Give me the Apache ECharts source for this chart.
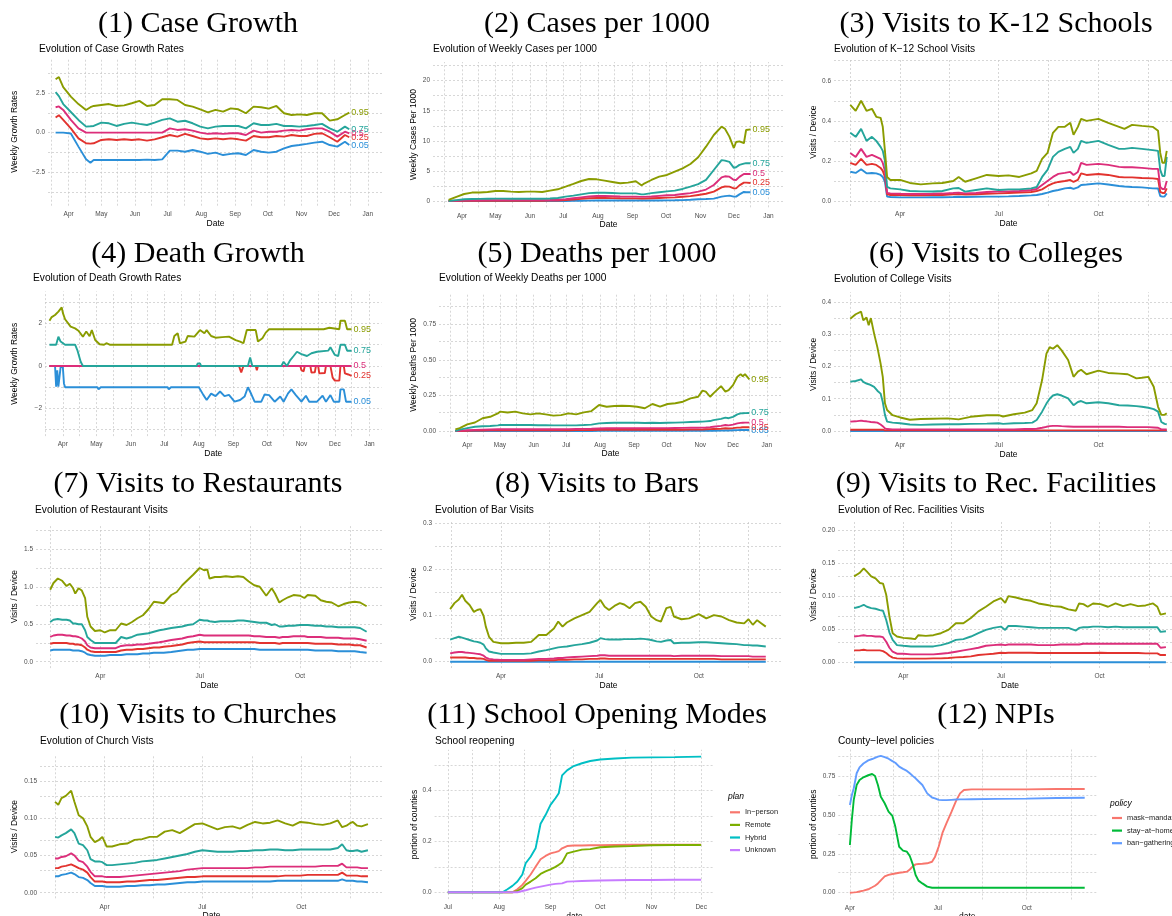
<!DOCTYPE html>
<html>
<head>
<meta charset="utf-8">
<title>County panels</title>
<script src="https://cdn.jsdelivr.net/npm/echarts@6/dist/echarts.min.js"></script>
<style>
  html, body { margin: 0; padding: 0; background: #fff; }
  #main { width: 1172px; height: 916px; }
</style>
</head>
<body>
<div id="main"></div>
<script>
// ---------- helpers for dates ----------
const t = s => { const p = s.split('-').map(Number); return new Date(p[0], p[1] - 1, p[2]).getTime(); };
const d20 = s => t('2020-' + s);
const monthAbbr = ['Jan', 'Feb', 'Mar', 'Apr', 'May', 'Jun', 'Jul', 'Aug', 'Sep', 'Oct', 'Nov', 'Dec'];

// ---------- tick values ----------
const monthTicks = ['2020-04-01', '2020-05-01', '2020-06-01', '2020-07-01', '2020-08-01', '2020-09-01', '2020-10-01', '2020-11-01', '2020-12-01', '2021-01-01'];
const monthMinor = ['2020-03-16', '2020-04-16', '2020-05-16', '2020-06-16', '2020-07-16', '2020-08-16', '2020-09-16', '2020-10-16', '2020-11-16', '2020-12-16'];
const quarterTicks = ['2020-04-01', '2020-07-01', '2020-10-01'];
const quarterMinor = ['2020-02-15', '2020-05-16', '2020-08-16', '2020-11-16'];
const p11Ticks = ['2020-07-01', '2020-08-01', '2020-09-01', '2020-10-01', '2020-11-01', '2020-12-01'];
const p11Minor = ['2020-07-16', '2020-08-16', '2020-09-15', '2020-10-16', '2020-11-15'];

const p1YTicks = [-2.5, 0, 2.5],          p1YMinor = [-3.75, -1.25, 1.25, 3.75];
const p2YTicks = [0, 5, 10, 15, 20],      p2YMinor = [2.5, 7.5, 12.5, 17.5, 22.5];
const p3YTicks = [0, 0.2, 0.4, 0.6],      p3YMinor = [0.1, 0.3, 0.5, 0.7];
const p4YTicks = [-2, 0, 2],              p4YMinor = [-3, -1, 1, 3];
const p5YTicks = [0, 0.25, 0.5, 0.75],    p5YMinor = [0.125, 0.375, 0.625, 0.875];
const p6YTicks = [0, 0.1, 0.2, 0.3, 0.4], p6YMinor = [0.05, 0.15, 0.25, 0.35];
const p7YTicks = [0, 0.5, 1, 1.5],        p7YMinor = [0.25, 0.75, 1.25, 1.75];
const p8YTicks = [0, 0.1, 0.2, 0.3],      p8YMinor = [0.05, 0.15, 0.25];
const p9YTicks = [0, 0.05, 0.1, 0.15, 0.2], p9YMinor = [0.025, 0.075, 0.125, 0.175];
const p10YTicks = [0, 0.05, 0.1, 0.15],   p10YMinor = [0.025, 0.075, 0.125, 0.175];
const p11YTicks = [0, 0.2, 0.4],          p11YMinor = [0.1, 0.3, 0.5];
const p12YTicks = [0, 0.25, 0.5, 0.75],   p12YMinor = [0.125, 0.375, 0.625, 0.875];

// ---------- quantile series ----------
const qNames = ['0.05', '0.25', '0.5', '0.75', '0.95'];

// (1) case growth
const p1Dates = ['3-20','3-23','3-27','4-3','4-10','4-17','4-21','4-24','5-1','5-8','5-15','5-22','5-29','6-5','6-12','6-19','6-26','7-3','7-10','7-17','7-24','7-31','8-7','8-14','8-21','8-28','9-4','9-11','9-18','9-25','10-2','10-9','10-16','10-23','10-30','11-6','11-13','11-20','11-27','12-4','12-11','12-15'];
const p1Q95 = [3.36,3.5,2.86, 2.27,1.8,1.43,1.6,1.68, 1.74,1.8,1.68,1.72,1.85, 2.0,1.68,1.74,2.1, 2.1,2.06,1.74,1.64,1.47, 1.28,1.43,1.32,1.53, 1.47,1.22,1.64,1.6, 1.51,1.68,1.22,1.11,1.15, 1.11,1.22,1.22,0.76, 0.84,1.11,1.26];
const p1Q75 = [2.55,2.3,1.8, 1.3,0.8,0.38,0.4,0.42, 0.63,0.59,0.42,0.55,0.63, 0.55,0.48,0.63,0.8, 0.9,0.69,0.75,0.59,0.38, 0.27,0.38,0.42,0.42, 0.42,0.27,0.59,0.48, 0.48,0.55,0.42,0.42,0.38, 0.42,0.48,0.55,0.27, 0.06,0.38,0.21];
const p1Q50 = [1.6,1.65,1.43, 0.8,0.27,0,0,0, 0,0,0,0,0, 0,0,0,0, 0.27,0.17,0.21,0.13,0, -0.08,-0.04,-0.08,-0.04, -0.04,-0.15,0.13,0, 0.06,0.06,0.13,0.17,0.13, 0.21,0.27,0.27,0.06, -0.25,0.06,-0.04];
const p1Q25 = [0.95,1.1,0.8, 0.27,-0.36,-0.67,-0.69,-0.67, -0.46,-0.42,-0.46,-0.42,-0.46, -0.42,-0.5,-0.42,-0.29, -0.15,-0.25,-0.08,-0.21,-0.36, -0.42,-0.36,-0.42,-0.36, -0.42,-0.5,-0.21,-0.29, -0.29,-0.21,-0.25,-0.15,-0.21, -0.21,-0.08,-0.04,-0.29, -0.57,-0.15,-0.29];
const p1Q05 = [0,0,0, -0.05,-0.88,-1.68,-1.89,-1.72, -1.72,-1.72,-1.72,-1.72,-1.72, -1.72,-1.7,-1.72,-1.68, -1.13,-1.13,-1.2,-1.09,-1.2, -1.34,-1.26,-1.41,-1.34, -1.3,-1.41,-1.09,-1.2, -1.26,-1.2,-0.99,-0.84,-0.78, -0.71,-0.63,-0.57,-0.78, -0.88,-0.57,-0.78];

// (2) cases per 1000
const p2Dates = ['3-20','3-27','4-3','4-10','4-17','4-24','5-1','5-8','5-15','5-22','5-29','6-5','6-12','6-19','6-26','7-3','7-10','7-17','7-24','7-31','8-7','8-14','8-21','8-28','9-4','9-9','9-11','9-18','9-25','10-2','10-9','10-16','10-23','10-30','11-6','11-13','11-20','11-23','11-27','12-1','12-3','12-6','12-10','12-12','12-16'];
const p2Q95 = [0.17,0.7, 1.16,1.4,1.4,1.5, 1.66,1.66,1.55,1.5,1.55, 1.55,1.5,1.72,1.94, 2.38,2.83,3.32,3.66,3.6, 3.38,3.16,2.94,3.05, 3.27,2.6,2.83,3.49,4.04, 4.32,4.88,5.43,6.15,7.26, 9.03,10.97,12.35,12.0,10.7, 8.8,9.8,9.9,9.6,11.8,11.9];
const p2Q75 = [0,0.15, 0.28,0.33,0.35,0.37, 0.39,0.39,0.38,0.37,0.38, 0.38,0.37,0.42,0.5, 0.72,0.9,1.1,1.3,1.38, 1.38,1.33,1.27,1.27, 1.27,1.1,1.1,1.3,1.45, 1.6,1.72,2.0,2.38,2.8, 3.5,5.15,6.8,6.7,6.5, 5.5,5.6,6.0,6.2,6.3,6.26];
const p2Q50 = [0,0.05, 0.1,0.12,0.13,0.14, 0.15,0.15,0.15,0.15,0.15, 0.15,0.15,0.17,0.2, 0.3,0.45,0.6,0.75,0.83, 0.83,0.8,0.75,0.72, 0.72,0.68,0.68,0.75,0.85, 0.95,1.0,1.15,1.3,1.55, 1.9,2.66,3.93,4.1,4.04, 3.5,3.49,4.0,4.49,4.5,4.49];
const p2Q25 = [0,0.02, 0.04,0.05,0.05,0.05, 0.05,0.05,0.05,0.05,0.05, 0.05,0.05,0.06,0.08, 0.15,0.25,0.35,0.45,0.5, 0.5,0.48,0.45,0.43, 0.43,0.4,0.4,0.45,0.5, 0.55,0.6,0.7,0.8,1.0, 1.2,1.55,2.27,2.4,2.38, 2.1,2.1,2.6,3.05,3.05,3.0];
const p2Q05 = [0,0, 0,0,0,0, 0,0,0,0,0, 0,0,0,0, 0,0.02,0.04,0.06,0.08, 0.08,0.08,0.08,0.08, 0.08,0.08,0.08,0.08,0.08, 0.1,0.12,0.15,0.2,0.28, 0.33,0.39,0.72,0.8,0.89, 0.72,0.72,1.1,1.5,1.45,1.44];

// (3) K-12 school visits
const p3Dates = ['2-15','2-20','2-25','3-1','3-6','3-10','3-14','3-16','3-18','3-20','3-23','4-1','4-10','4-20','5-1','5-10','5-20','5-25','5-31','6-10','6-20','7-1','7-10','7-20','7-31','8-5','8-10','8-15','8-20','8-25','8-31','9-5','9-8','9-12','9-15','9-20','10-1','10-10','10-20','10-25','11-1','11-10','11-20','11-25','11-27','11-29','12-1','12-3'];
const p3Q95 = [0.48,0.45,0.5, 0.45,0.46,0.42,0.415,0.37,0.25,0.12,0.105, 0.105,0.09,0.083, 0.088,0.09,0.1,0.12,0.096, 0.113,0.13, 0.125,0.128,0.12,0.138, 0.15,0.21,0.24,0.34,0.37,0.37, 0.39,0.33,0.37,0.41,0.4, 0.41,0.39,0.37,0.36, 0.38,0.375,0.37,0.35,0.24,0.19, 0.19,0.25];
const p3Q75 = [0.34,0.32,0.36, 0.3,0.32,0.3,0.27,0.25,0.2,0.07,0.063, 0.058,0.05,0.048, 0.047,0.05,0.063,0.065,0.047, 0.055,0.063, 0.055,0.058,0.058,0.063, 0.07,0.12,0.155,0.22,0.245,0.26, 0.27,0.24,0.26,0.3,0.29, 0.3,0.28,0.26,0.26, 0.265,0.26,0.254,0.25,0.155,0.125, 0.125,0.22];
const p3Q50 = [0.24,0.22,0.26, 0.22,0.23,0.22,0.21,0.19,0.15,0.04,0.038, 0.036,0.035,0.035, 0.036,0.037,0.04,0.042,0.038, 0.04,0.045, 0.047,0.048,0.05,0.055, 0.06,0.08,0.1,0.12,0.135,0.14, 0.145,0.13,0.145,0.19,0.18, 0.185,0.18,0.17,0.168, 0.168,0.165,0.16,0.16,0.07,0.06, 0.06,0.1];
const p3Q25 = [0.19,0.18,0.21, 0.18,0.185,0.18,0.165,0.15,0.12,0.033,0.03, 0.03,0.029,0.029, 0.03,0.03,0.033,0.035,0.032, 0.034,0.036, 0.038,0.04,0.042,0.045, 0.05,0.058,0.075,0.088,0.095,0.1, 0.105,0.095,0.105,0.138,0.13, 0.135,0.13,0.12,0.118, 0.118,0.115,0.113,0.11,0.045,0.04, 0.04,0.063];
const p3Q05 = [0.146,0.14,0.158, 0.138,0.14,0.138,0.13,0.12,0.095,0.022,0.02, 0.018,0.018,0.018, 0.019,0.019,0.02,0.021,0.02, 0.021,0.022, 0.022,0.023,0.025,0.028, 0.03,0.035,0.042,0.05,0.055,0.063, 0.066,0.06,0.068,0.08,0.082, 0.088,0.082,0.075,0.072, 0.07,0.068,0.063,0.062,0.025,0.022, 0.022,0.038];

// (4) death growth (step-like, own dates per quantile)
const p4Q95 = [['3-20',2.13],['3-22',2.3],['3-25',2.4],['3-28',2.56],['3-31',2.76],['4-1',2.5],['4-3',2.2],['4-8',1.85],['4-12',1.77],['4-15',1.66],['4-19',1.38],['4-22',1.62],['4-25',1.4],['4-27',1.69],['4-30',1.22],['5-4',1.02],['5-8',1.0],['5-10',1.07],['5-13',1.0],['7-8',1.0],['7-10',1.41],['7-13',1.54],['7-15',1.07],['7-20',1.15],['7-22',1.41],['7-28',1.38],['8-2',1.69],['8-6',1.54],['8-8',1.69],['8-12',1.41],['8-16',1.33],['8-22',1.36],['8-28',1.38],['9-3',1.22],['9-7',1.15],['9-10',1.07],['9-13',1.69],['9-21',1.69],['9-23',1.15],['9-27',1.3],['9-30',1.57],['10-3',1.73],['11-21',1.73],['11-22',1.8],['11-26',1.8],['11-27',1.73],['12-5',1.73],['12-6',2.13],['12-10',2.13],['12-12',1.73],['12-16',1.73]];
const p4Q75 = [['3-20',1.0],['3-26',1.0],['3-28',1.38],['3-30',1.15],['4-3',1.0],['4-12',1.0],['4-14',0.75],['4-17',0.2],['4-19',0],['7-30',0],['7-31',0.12],['8-2',0.12],['8-3',0],['9-14',0],['9-16',0.4],['9-18',0],['10-14',0],['10-16',0.2],['10-19',0],['10-22',0.28],['10-25',0.47],['10-28',0.67],['11-1',0.56],['11-6',0.47],['11-10',0.6],['11-15',0.67],['11-25',0.72],['11-27',0.88],['12-1',0.52],['12-4',0.47],['12-6',1.0],['12-10',1.0],['12-12',0.72],['12-16',0.72]];
const p4Q50 = [['3-20',0],['12-16',0]];
const p4Q25 = [['3-20',0],['9-6',0],['9-8',-0.3],['9-10',0],['9-21',0],['9-22',-0.2],['9-23',0],['10-31',0],['11-1',-0.2],['11-3',-0.25],['11-4',0],['11-9',0],['11-10',-0.31],['11-13',-0.3],['11-14',0],['11-16',0],['11-17',-0.35],['11-22',-0.33],['11-23',0],['11-27',0],['11-29',-0.55],['12-1',-0.69],['12-5',-0.69],['12-6',0],['12-9',0],['12-10',-0.35],['12-13',-0.4],['12-16',-0.47]];
const p4Q05 = [['3-20',0],['3-25',0],['3-26',-0.97],['3-27',-0.2],['3-28',-0.97],['3-30',-0.05],['4-1',-0.05],['4-2',-0.82],['4-3',-1.0],['5-2',-1.0],['5-3',-1.1],['5-5',-1.0],['6-4',-1.0],['6-5',-1.07],['6-8',-1.0],['7-4',-1.0],['7-5',-1.1],['7-7',-1.0],['8-1',-1.0],['8-5',-1.36],['8-8',-1.6],['8-12',-1.3],['8-16',-1.42],['8-20',-1.2],['8-24',-1.42],['8-28',-1.36],['9-2',-1.68],['9-7',-1.6],['9-11',-1.44],['9-14',-1.0],['9-17',-1.32],['9-20',-1.68],['9-26',-1.68],['9-29',-1.34],['10-3',-1.37],['10-8',-1.68],['10-13',-1.44],['10-16',-1.68],['10-20',-1.29],['10-23',-1.1],['10-27',-1.37],['11-1',-1.68],['11-5',-1.4],['11-8',-1.68],['11-15',-1.68],['11-20',-1.4],['11-23',-1.68],['11-27',-1.37],['11-30',-1.68],['12-5',-1.68],['12-6',-1.1],['12-9',-1.1],['12-11',-1.68],['12-16',-1.68]];

// (5) deaths per 1000
const p5Dates = ['3-21','3-25','4-1','4-8','4-15','4-22','4-29','5-1','5-8','5-15','5-22','5-29','6-5','6-12','6-19','6-26','7-3','7-10','7-17','7-24','7-31','8-7','8-14','8-21','8-28','9-4','9-11','9-18','9-25','10-2','10-9','10-16','10-23','10-30','11-3','11-6','11-10','11-13','11-20','11-24','11-27','12-1','12-5','12-8','12-10','12-12','12-16'];
const p5Q95 = [0.012,0.02, 0.047,0.06,0.09,0.1,0.124, 0.136,0.13,0.136,0.124,0.117, 0.124,0.117,0.108,0.112, 0.124,0.117,0.131,0.14,0.183, 0.171,0.176,0.178,0.176, 0.171,0.16,0.19,0.171, 0.19,0.195,0.206,0.23,0.241, 0.284,0.277,0.241,0.265,0.316,0.277,0.288, 0.323,0.382,0.4,0.385,0.4,0.363];
const p5Q75 = [0,0.01, 0.02,0.03,0.033,0.035,0.04, 0.042,0.042,0.043,0.042,0.042, 0.041,0.041,0.04,0.04, 0.04,0.04,0.042,0.045,0.054, 0.056,0.058,0.059,0.058, 0.058,0.056,0.058,0.056, 0.058,0.059,0.061,0.063,0.065, 0.066,0.068,0.07,0.077,0.085,0.094,0.09, 0.1,0.117,0.124,0.125,0.126,0.127];
const p5Q50 = [0,0.002, 0.005,0.008,0.01,0.011,0.012, 0.012,0.012,0.012,0.012,0.012, 0.012,0.012,0.012,0.012, 0.013,0.014,0.015,0.016,0.018, 0.019,0.019,0.019,0.019, 0.019,0.019,0.02,0.02, 0.02,0.021,0.022,0.023,0.023, 0.024,0.025,0.027,0.03,0.036,0.042,0.04, 0.045,0.054,0.057,0.058,0.059,0.059];
const p5Q25 = [0,0, 0.002,0.003,0.004,0.005,0.005, 0.005,0.005,0.005,0.005,0.005, 0.005,0.005,0.005,0.005, 0.005,0.006,0.006,0.007,0.008, 0.008,0.008,0.008,0.008, 0.008,0.008,0.008,0.008, 0.009,0.009,0.009,0.01,0.01, 0.011,0.012,0.013,0.014,0.016,0.019,0.018, 0.02,0.024,0.025,0.026,0.026,0.026];
const p5Q05 = [0,0, 0,0,0,0,0, 0,0,0,0,0, 0,0,0,0, 0,0,0,0,0.001, 0.001,0.001,0.001,0.001, 0.001,0.001,0.001,0.001, 0.001,0.001,0.001,0.001,0.001, 0.002,0.002,0.002,0.002,0.003,0.004,0.004, 0.005,0.006,0.007,0.007,0.007,0.007];

// (6) college visits
const p6Dates = ['2-15','2-20','2-25','2-27','3-1','3-3','3-5','3-8','3-11','3-14','3-16','3-18','3-20','3-25','4-1','4-10','4-20','5-1','5-15','5-25','6-5','6-20','7-1','7-5','7-15','7-25','8-1','8-5','8-10','8-14','8-17','8-20','8-24','8-28','9-3','9-8','9-12','9-15','9-20','10-1','10-10','10-20','10-28','11-5','11-10','11-16','11-21','11-25','11-28','12-1','12-3'];
const p6Q95 = [0.348,0.362,0.37,0.343,0.352,0.328,0.35,0.302,0.26,0.209, 0.168,0.086,0.065,0.049,0.042,0.035,0.037,0.038,0.039,0.036, 0.044,0.049,0.049,0.045,0.052,0.057,0.065,0.086,0.158,0.24, 0.26,0.255,0.266,0.25,0.22,0.168,0.184,0.19,0.176,0.187, 0.18,0.178,0.176,0.163,0.165,0.168,0.137,0.075,0.05,0.05, 0.055];
const p6Q75 = [0.153,0.155,0.16,0.152,0.147,0.145,0.142,0.137,0.125,0.116, 0.09,0.05,0.029,0.026,0.024,0.02,0.019,0.02,0.021,0.021, 0.022,0.023,0.024,0.022,0.024,0.025,0.026,0.034,0.06,0.085, 0.1,0.11,0.114,0.11,0.101,0.08,0.09,0.093,0.086,0.089, 0.086,0.08,0.079,0.077,0.075,0.072,0.068,0.06,0.028,0.022, 0.021];
const p6Q50 = [0.029,0.03,0.032,0.031,0.03,0.029,0.028,0.027,0.026,0.02, 0.015,0.008,0.006,0.005,0.005,0.005,0.005,0.005,0.005,0.005, 0.005,0.005,0.005,0.005,0.005,0.006,0.006,0.007,0.01,0.013, 0.015,0.016,0.016,0.015,0.014,0.013,0.013,0.013,0.013,0.013, 0.013,0.013,0.012,0.012,0.012,0.012,0.011,0.01,0.005,0.005, 0.005];
const p6Q25 = [0.004,0.004,0.004,0.004,0.004,0.004,0.004,0.004,0.004,0.004, 0.004,0.002,0.002,0.002,0.002,0.002,0.002,0.002,0.002,0.002, 0.002,0.002,0.002,0.002,0.002,0.002,0.002,0.002,0.002,0.002, 0.002,0.002,0.002,0.002,0.002,0.002,0.002,0.002,0.002,0.002, 0.002,0.002,0.002,0.002,0.002,0.002,0.002,0.002,0.002,0.002, 0.002];
const p6Q05 = [0,0,0,0,0,0,0,0,0,0, 0,0,0,0,0,0,0,0,0,0, 0,0,0,0,0,0,0,0,0,0, 0,0,0,0,0,0,0,0,0,0, 0,0,0,0,0,0,0,0,0,0, 0];

// (7) restaurant visits
const p7Dates = ['2-15','2-18','2-22','2-26','3-1','3-4','3-7','3-9','3-12','3-15','3-18','3-20','3-23','3-27','4-1','4-5','4-10','4-15','4-20','4-25','4-30','5-5','5-10','5-15','5-20','5-25','5-29','6-5','6-10','6-15','6-20','6-25','7-1','7-5','7-8','7-10','7-15','7-20','7-25','7-31','8-5','8-10','8-15','8-20','8-25','8-31','9-5','9-8','9-12','9-15','9-20','9-25','10-1','10-5','10-8','10-15','10-20','10-25','10-30','11-5','11-10','11-15','11-20','11-25','12-1'];
const p7Q95 = [0.96,1.05,1.11,1.08, 1.01,1.04,0.98,0.91,0.98,0.95,0.85,0.6,0.47,0.41, 0.42,0.39,0.42,0.42,0.51,0.49,0.53, 0.58,0.62,0.7,0.8,0.79,0.78, 0.89,0.93,1.02,1.09,1.16, 1.25,1.22,1.23,1.11,1.13,1.13,1.14,1.13, 1.14,1.13,1.07,1.02,1.0,0.88, 0.98,0.91,0.79,0.82,0.86,0.89, 0.88,0.85,0.89,0.88,0.82,0.8,0.79, 0.74,0.77,0.79,0.8,0.79, 0.74];
const p7Q75 = [0.53,0.56,0.57,0.56, 0.56,0.55,0.51,0.51,0.5,0.5,0.42,0.33,0.29,0.25, 0.25,0.25,0.25,0.25,0.33,0.31,0.33, 0.36,0.37,0.38,0.4,0.42,0.43, 0.45,0.46,0.47,0.49,0.5, 0.56,0.55,0.55,0.54,0.53,0.54,0.54,0.54, 0.55,0.55,0.54,0.53,0.52,0.52, 0.49,0.5,0.47,0.47,0.48,0.48, 0.49,0.49,0.49,0.48,0.48,0.47,0.47, 0.46,0.46,0.46,0.46,0.45, 0.4];
const p7Q50 = [0.33,0.35,0.36,0.36, 0.35,0.35,0.34,0.34,0.33,0.31,0.27,0.22,0.19,0.18, 0.18,0.18,0.18,0.18,0.21,0.22,0.22, 0.23,0.23,0.24,0.25,0.26,0.27, 0.29,0.3,0.31,0.33,0.34, 0.36,0.35,0.35,0.35,0.35,0.35,0.35,0.35, 0.35,0.35,0.35,0.34,0.34,0.33, 0.33,0.33,0.32,0.33,0.33,0.34, 0.34,0.34,0.33,0.33,0.33,0.32,0.32, 0.32,0.31,0.31,0.31,0.3, 0.28];
const p7Q25 = [0.24,0.25,0.25,0.25, 0.25,0.24,0.24,0.23,0.23,0.22,0.19,0.16,0.14,0.13, 0.13,0.13,0.13,0.13,0.15,0.16,0.16, 0.17,0.17,0.18,0.19,0.19,0.2, 0.21,0.22,0.23,0.25,0.26, 0.27,0.26,0.26,0.26,0.26,0.26,0.26,0.26, 0.26,0.26,0.26,0.26,0.25,0.25, 0.25,0.25,0.24,0.25,0.25,0.25, 0.25,0.25,0.25,0.24,0.24,0.24,0.24, 0.23,0.23,0.23,0.22,0.22, 0.19];
const p7Q05 = [0.15,0.16,0.16,0.16, 0.16,0.16,0.15,0.15,0.15,0.14,0.12,0.1,0.09,0.08, 0.08,0.08,0.09,0.09,0.09,0.1,0.1, 0.1,0.11,0.11,0.12,0.12,0.12, 0.13,0.14,0.15,0.16,0.16, 0.17,0.17,0.17,0.17,0.17,0.17,0.17,0.17, 0.17,0.17,0.17,0.17,0.16,0.16, 0.16,0.16,0.16,0.16,0.16,0.16, 0.16,0.16,0.16,0.15,0.15,0.15,0.15, 0.14,0.14,0.14,0.14,0.13, 0.12];

// (8) bar visits
const p8Dates = ['2-14','2-18','2-22','2-25','2-28','3-3','3-7','3-10','3-13','3-16','3-18','3-21','3-25','4-1','4-8','4-15','4-22','4-29','5-6','5-13','5-20','5-24','5-28','6-1','6-8','6-15','6-22','6-29','7-2','7-6','7-10','7-15','7-20','7-24','7-29','8-3','8-8','8-13','8-18','8-23','8-27','9-1','9-5','9-8','9-15','9-22','10-1','10-8','10-15','10-22','10-29','11-5','11-12','11-16','11-20','11-24','11-28','12-2'];
const p8Q95 = [0.114,0.127,0.135,0.145,0.132, 0.123,0.108,0.112,0.114,0.099,0.076,0.054,0.043, 0.04,0.04,0.041,0.041,0.043, 0.058,0.058,0.072,0.087,0.076, 0.085,0.094,0.101,0.108,0.127, 0.134,0.119,0.112,0.121,0.127,0.124,0.116, 0.127,0.13,0.119,0.098,0.09,0.087, 0.116,0.119,0.098,0.092,0.094, 0.103,0.094,0.101,0.098,0.09, 0.085,0.083,0.092,0.08,0.09,0.083, 0.076];
const p8Q75 = [0.048,0.051,0.054,0.052,0.05, 0.047,0.044,0.043,0.041,0.037,0.029,0.022,0.02, 0.017,0.017,0.017,0.017,0.018, 0.022,0.025,0.029,0.031,0.032, 0.033,0.036,0.038,0.041,0.046, 0.051,0.049,0.048,0.048,0.048,0.049,0.049, 0.049,0.05,0.049,0.047,0.044,0.043, 0.046,0.047,0.04,0.041,0.041, 0.042,0.042,0.041,0.04,0.039, 0.038,0.036,0.036,0.035,0.035,0.034, 0.033];
const p8Q50 = [0.018,0.02,0.021,0.021,0.02, 0.019,0.018,0.017,0.016,0.013,0.009,0.006,0.005, 0.004,0.004,0.004,0.004,0.005, 0.006,0.006,0.007,0.008,0.008, 0.009,0.01,0.011,0.012,0.013, 0.014,0.014,0.013,0.013,0.013,0.013,0.013, 0.013,0.013,0.013,0.013,0.013,0.013, 0.013,0.013,0.012,0.013,0.013, 0.013,0.013,0.013,0.012,0.012, 0.012,0.012,0.012,0.011,0.011,0.011, 0.011];
const p8Q25 = [0.009,0.009,0.009,0.009,0.009, 0.008,0.008,0.007,0.007,0.006,0.004,0.002,0.002, 0.002,0.002,0.002,0.002,0.002, 0.003,0.003,0.003,0.004,0.004, 0.004,0.005,0.005,0.006,0.006, 0.007,0.007,0.006,0.006,0.006,0.006,0.006, 0.006,0.006,0.006,0.006,0.006,0.006, 0.006,0.006,0.006,0.006,0.006, 0.006,0.006,0.006,0.005,0.005, 0.005,0.005,0.005,0.005,0.005,0.005, 0.005];
const p8Q05 = [0,0,0,0,0, 0,0,0,0,0,0,0,0, 0,0,0,0,0, 0,0,0,0,0, 0,0,0,0,0, 0,0,0,0,0,0,0, 0,0,0,0,0,0, 0,0,0,0,0, 0,0,0,0,0, 0,0,0,0,0,0, 0];

// (9) recreational facility visits
const p9Dates = ['2-15','2-20','2-24','2-27','3-2','3-6','3-10','3-13','3-16','3-19','3-22','3-26','4-1','4-8','4-12','4-15','4-22','4-29','5-6','5-13','5-20','5-27','6-3','6-10','6-17','6-24','7-1','7-5','7-8','7-15','7-22','7-29','8-5','8-12','8-19','8-26','9-2','9-9','9-12','9-16','9-20','9-25','10-2','10-9','10-16','10-23','10-30','11-6','11-13','11-20','11-24','11-27','12-2'];
const p9Q95 = [0.13,0.135,0.142,0.137, 0.13,0.127,0.12,0.119,0.102,0.069,0.044,0.039, 0.037,0.036,0.035,0.041,0.04,0.041, 0.044,0.049,0.059,0.059, 0.067,0.077,0.084,0.092, 0.097,0.09,0.1,0.098,0.095,0.093, 0.089,0.087,0.085,0.084, 0.08,0.078,0.089,0.088,0.084,0.089, 0.088,0.084,0.089,0.085,0.088, 0.085,0.086,0.089,0.084,0.072, 0.074];
const p9Q75 = [0.082,0.084,0.087,0.084, 0.082,0.081,0.079,0.078,0.064,0.045,0.034,0.026, 0.025,0.024,0.024,0.024,0.024,0.024, 0.026,0.029,0.034,0.035, 0.039,0.044,0.049,0.052, 0.054,0.049,0.055,0.055,0.054,0.053, 0.052,0.052,0.052,0.052, 0.052,0.048,0.052,0.053,0.053,0.054, 0.054,0.053,0.054,0.053,0.053, 0.053,0.053,0.053,0.053,0.046, 0.047];
const p9Q50 = [0.039,0.04,0.041,0.04, 0.04,0.039,0.039,0.038,0.031,0.022,0.016,0.013, 0.013,0.012,0.012,0.012,0.012,0.012, 0.013,0.014,0.016,0.018, 0.02,0.022,0.025,0.026, 0.027,0.026,0.027,0.027,0.027,0.027, 0.026,0.026,0.026,0.027, 0.027,0.027,0.027,0.028,0.028,0.028, 0.028,0.028,0.028,0.028,0.028, 0.028,0.028,0.028,0.028,0.022, 0.023];
const p9Q25 = [0.018,0.018,0.019,0.018, 0.018,0.018,0.018,0.017,0.014,0.01,0.007,0.006, 0.0055,0.0055,0.0055,0.0055,0.0055,0.006, 0.006,0.0065,0.0075,0.008, 0.009,0.011,0.012,0.013, 0.0145,0.014,0.0145,0.0145,0.0145,0.0145, 0.014,0.014,0.014,0.014, 0.014,0.014,0.014,0.014,0.014,0.014, 0.0145,0.014,0.014,0.014,0.014, 0.014,0.0135,0.0135,0.0135,0.011, 0.011];
const p9Q05 = [0,0,0,0, 0,0,0,0,0,0,0,0, 0,0,0,0,0,0, 0,0,0,0, 0,0,0,0, 0,0,0,0,0,0, 0,0,0,0, 0,0,0,0,0,0, 0,0,0,0,0, 0,0,0,0,0, 0];

// (10) church visits
const p10Dates = ['2-15','2-18','2-21','2-25','3-1','3-4','3-8','3-12','3-16','3-19','3-23','3-27','3-30','4-3','4-8','4-15','4-22','4-29','5-6','5-13','5-20','5-27','6-3','6-10','6-17','6-24','7-1','7-8','7-15','7-22','7-29','8-5','8-12','8-19','8-26','9-2','9-9','9-16','9-23','9-30','10-7','10-14','10-21','10-28','11-4','11-8','11-12','11-15','11-18','11-22','11-26','12-2'];
const p10Q95 = [0.122,0.118,0.127,0.13, 0.137,0.122,0.104,0.1,0.089,0.075,0.068,0.071,0.075, 0.062,0.062,0.065,0.066,0.071, 0.072,0.075,0.075,0.082, 0.084,0.08,0.086,0.092, 0.093,0.089,0.085,0.088,0.089, 0.086,0.091,0.095,0.093, 0.094,0.097,0.093,0.09,0.095, 0.094,0.092,0.091,0.093, 0.097,0.088,0.09,0.093,0.095,0.09,0.089, 0.092];
const p10Q75 = [0.075,0.074,0.077,0.08, 0.085,0.08,0.066,0.064,0.057,0.045,0.042,0.042,0.041, 0.037,0.037,0.038,0.039,0.04, 0.042,0.043,0.044,0.046, 0.048,0.05,0.052,0.055, 0.057,0.056,0.055,0.055,0.055, 0.056,0.056,0.057,0.057, 0.058,0.058,0.057,0.057,0.058, 0.058,0.058,0.058,0.058, 0.06,0.065,0.057,0.056,0.056,0.057,0.055, 0.057];
const p10Q50 = [0.046,0.046,0.048,0.049, 0.053,0.05,0.043,0.041,0.035,0.028,0.022,0.022,0.022, 0.021,0.021,0.021,0.022,0.023, 0.024,0.025,0.026,0.027, 0.028,0.029,0.031,0.032, 0.033,0.033,0.033,0.033,0.033, 0.033,0.033,0.034,0.034, 0.035,0.035,0.035,0.035,0.035, 0.035,0.035,0.036,0.036, 0.036,0.039,0.034,0.034,0.034,0.034,0.033, 0.033];
const p10Q25 = [0.033,0.033,0.035,0.036, 0.038,0.036,0.033,0.031,0.027,0.021,0.015,0.015,0.015, 0.014,0.014,0.014,0.015,0.015, 0.016,0.017,0.017,0.018, 0.019,0.02,0.021,0.021, 0.022,0.022,0.022,0.022,0.022, 0.022,0.022,0.022,0.022, 0.022,0.022,0.023,0.023,0.023, 0.024,0.024,0.024,0.024, 0.024,0.027,0.023,0.023,0.023,0.023,0.022, 0.022];
const p10Q05 = [0.022,0.022,0.024,0.025, 0.027,0.025,0.021,0.02,0.017,0.013,0.009,0.009,0.009, 0.008,0.008,0.008,0.009,0.009, 0.01,0.01,0.011,0.011, 0.012,0.013,0.014,0.014, 0.015,0.015,0.015,0.015,0.015, 0.015,0.015,0.015,0.015, 0.015,0.016,0.016,0.016,0.016, 0.016,0.016,0.016,0.016, 0.016,0.018,0.016,0.016,0.016,0.015,0.015, 0.014];

// (11) school opening modes
const p11Dates = ['7-1','8-3','8-6','8-9','8-12','8-15','8-17','8-20','8-23','8-26','8-29','9-1','9-4','9-6','9-8','9-11','9-15','9-20','9-25','10-1','10-10','10-20','11-1','11-15','12-1'];
const p11InPerson = [0,0,0,0,0.012,0.029,0.045,0.07,0.1,0.13,0.143,0.153,0.158,0.162,0.173,0.182,0.184,0.184,0.185,0.185,0.186,0.187,0.1875,0.1875,0.1875];
const p11Remote   = [0,0,0,0,0.005,0.016,0.03,0.042,0.055,0.072,0.082,0.09,0.1,0.108,0.117,0.153,0.16,0.168,0.17,0.177,0.18,0.182,0.185,0.186,0.186];
const p11Hybrid   = [0,0,0.012,0.025,0.042,0.07,0.114,0.14,0.173,0.27,0.304,0.344,0.37,0.39,0.46,0.48,0.497,0.508,0.517,0.523,0.527,0.53,0.531,0.532,0.534];
const p11Unknown  = [0,0,0,0,0,0.005,0.008,0.013,0.018,0.022,0.026,0.03,0.033,0.034,0.035,0.042,0.043,0.044,0.045,0.046,0.047,0.048,0.0485,0.049,0.049];

// (12) county-level policies
const p12Dates = ['4-1','4-3','4-5','4-8','4-11','4-15','4-20','4-24','4-27','4-30','5-3','5-7','5-11','5-15','5-18','5-22','5-26','5-30','6-2','6-5','6-8','6-11','6-15','6-20','6-25','6-28','7-2','7-6','7-10','7-15','7-20','7-24','7-28','8-5','9-1','10-1','11-1','11-30'];
const p12Mask = [0,0.001,0.002,0.004,0.008,0.013,0.022,0.035,0.045,0.06, 0.08,0.105,0.115,0.121,0.124,0.129,0.132,0.136, 0.15,0.17,0.183,0.185,0.187,0.19,0.2,0.23, 0.3,0.39,0.45,0.52,0.595,0.642,0.664, 0.668,0.668,0.668,0.67,0.67];
const p12Stay = [0.308,0.47,0.6,0.696,0.728,0.746,0.759,0.767,0.754,0.696, 0.62,0.578,0.524,0.496,0.427,0.297,0.272,0.265, 0.237,0.185,0.114,0.078,0.06,0.039,0.032,0.032, 0.032,0.032,0.032,0.032,0.032,0.032,0.032, 0.032,0.032,0.032,0.032,0.032];
const p12Ban  = [0.567,0.63,0.675,0.772,0.81,0.835,0.855,0.864,0.872,0.879, 0.884,0.876,0.866,0.85,0.84,0.815,0.8,0.787, 0.772,0.755,0.739,0.72,0.696,0.642,0.615,0.61, 0.6,0.598,0.598,0.6,0.602,0.603,0.603, 0.604,0.606,0.608,0.612,0.614];

// ---------- styling ----------
const qColors = ['#2b8fd8', '#e2332f', '#dc2e7a', '#25a59b', '#8a9c00'];
const SANS = '"Liberation Sans", Arial, sans-serif';
const SERIF = '"Liberation Serif", "Times New Roman", serif';
const zip = (dates, vals) => dates.map((s, i) => [d20(s), vals[i]]);
const quant = (dates, arrs) => arrs.map((a, k) => ({ name: qNames[k], color: qColors[k], data: zip(dates, a) }));
const fmt = dec => v => (v < 0 ? '\u2212' : '') + Math.abs(v).toFixed(dec);

const panels = [
  { title: '(1) Case Growth', sub: 'Evolution of Case Growth Rates', yName: 'Weekly Growth Rates', xName: 'Date',
    box: [48, 58, 335, 147.7], xr: ['2020-03-13', '2021-01-15'], yr: [-4.6, 4.7], xT: monthTicks, xM: monthMinor,
    yT: p1YTicks, yM: p1YMinor, dec: 1, yGap: 29, xGap: 13, tc: [198, 24], sc: [39, 49], endLab: true,
    lines: quant(p1Dates, [p1Q05, p1Q25, p1Q50, p1Q75, p1Q95]) },
  { title: '(2) Cases per 1000', sub: 'Evolution of Weekly Cases per 1000', yName: 'Weekly Cases Per 1000', xName: 'Date',
    box: [433, 62, 351, 145.3], xr: ['2020-03-06', '2021-01-15'], yr: [-1.05, 23.1], xT: monthTicks, xM: monthMinor,
    yT: p2YTicks, yM: p2YMinor, dec: 0, yGap: 15, xGap: 12, tc: [597, 24], sc: [433, 49], endLab: true,
    lines: quant(p2Dates, [p2Q05, p2Q25, p2Q50, p2Q75, p2Q95]) },
  { title: '(3) Visits to K-12 Schools', sub: 'Evolution of K\u221212 School Visits', yName: 'Visits / Device', xName: 'Date',
    box: [834, 58.3, 349, 147.7], xr: ['2020-01-31', '2020-12-18'], yr: [-0.025, 0.712], xT: quarterTicks, xM: quarterMinor,
    yT: p3YTicks, yM: p3YMinor, dec: 1, yGap: 16, xGap: 13, tc: [996, 24], sc: [834, 49],
    lines: quant(p3Dates, [p3Q05, p3Q25, p3Q50, p3Q75, p3Q95]) },
  { title: '(4) Death Growth', sub: 'Evolution of Death Growth Rates', yName: 'Weekly Growth Rates', xName: 'Date',
    box: [45, 291.6, 336.7, 144.5], xr: ['2020-03-16', '2021-01-12'], yr: [-3.3, 3.5], xT: monthTicks, xM: monthMinor,
    yT: p4YTicks, yM: p4YMinor, dec: 0, yGap: 26, xGap: 12.5, tc: [198, 254], sc: [33, 278.5], endLab: true,
    lines: [p4Q05, p4Q25, p4Q50, p4Q75, p4Q95].map((a, k) => ({ name: qNames[k], color: qColors[k], data: a.map(p => [d20(p[0]), p[1]]) })) },
  { title: '(5) Deaths per 1000', sub: 'Evolution of Weekly Deaths per 1000', yName: 'Weekly Deaths Per 1000', xName: 'Date',
    box: [439, 293.1, 343, 143.6], xr: ['2020-03-06', '2021-01-15'], yr: [-0.04, 0.97], xT: monthTicks, xM: monthMinor,
    yT: p5YTicks, yM: p5YMinor, dec: 2, yGap: 21, xGap: 12.5, tc: [597, 254], sc: [439, 278.5], endLab: true,
    lines: quant(p5Dates, [p5Q05, p5Q25, p5Q50, p5Q75, p5Q95]) },
  { title: '(6) Visits to Colleges', sub: 'Evolution of College Visits', yName: 'Visits / Device', xName: 'Date',
    box: [834, 292, 349, 144.8], xr: ['2020-01-31', '2020-12-18'], yr: [-0.018, 0.431], xT: quarterTicks, xM: quarterMinor,
    yT: p6YTicks, yM: p6YMinor, dec: 1, yGap: 16, xGap: 12.5, tc: [996, 254], sc: [834, 279],
    lines: quant(p6Dates, [p6Q05, p6Q25, p6Q50, p6Q75, p6Q95]) },
  { title: '(7) Visits to Restaurants', sub: 'Evolution of Restaurant Visits', yName: 'Visits / Device', xName: 'Date',
    box: [36, 525.3, 347, 142.8], xr: ['2020-02-02', '2020-12-16'], yr: [-0.085, 1.82], xT: quarterTicks, xM: quarterMinor,
    yT: p7YTicks, yM: p7YMinor, dec: 1, yGap: 17, xGap: 13.5, tc: [198, 484], sc: [35, 510],
    lines: quant(p7Dates, [p7Q05, p7Q25, p7Q50, p7Q75, p7Q95]) },
  { title: '(8) Visits to Bars', sub: 'Evolution of Bar Visits', yName: 'Visits / Device', xName: 'Date',
    box: [435, 520.1, 347, 147.9], xr: ['2020-01-31', '2020-12-17'], yr: [-0.0137, 0.307], xT: quarterTicks, xM: quarterMinor,
    yT: p8YTicks, yM: p8YMinor, dec: 1, yGap: 17, xGap: 13.5, tc: [597, 484], sc: [435, 510],
    lines: quant(p8Dates, [p8Q05, p8Q25, p8Q50, p8Q75, p8Q95]) },
  { title: '(9) Visits to Rec. Facilities', sub: 'Evolution of Rec. Facilities Visits', yName: 'Visits / Device', xName: 'Date',
    box: [838, 521.7, 344, 146.3], xr: ['2020-01-31', '2020-12-17'], yr: [-0.0086, 0.2126], xT: quarterTicks, xM: quarterMinor,
    yT: p9YTicks, yM: p9YMinor, dec: 2, yGap: 20, xGap: 13.5, tc: [996, 484], sc: [838, 510],
    lines: quant(p9Dates, [p9Q05, p9Q25, p9Q50, p9Q75, p9Q95]) },
  { title: '(10) Visits to Churches', sub: 'Evolution of Church Vists', yName: 'Visits / Device', xName: 'Date',
    box: [40, 754.9, 343, 143.4], xr: ['2020-02-01', '2020-12-16'], yr: [-0.0075, 0.185], xT: quarterTicks, xM: quarterMinor,
    yT: p10YTicks, yM: p10YMinor, dec: 2, yGap: 21, xGap: 12.5, tc: [198, 715], sc: [40, 741],
    lines: quant(p10Dates, [p10Q05, p10Q25, p10Q50, p10Q75, p10Q95]) },
  { title: '(11) School Opening Modes', sub: 'School reopening', yName: 'portion of counties', xName: 'date',
    box: [434.6, 749.8, 279.8, 149.3], xr: ['2020-06-23', '2020-12-09'], yr: [-0.027, 0.561], xT: p11Ticks, xM: p11Minor,
    yT: p11YTicks, yM: p11YMinor, dec: 1, yGap: 15, xGap: 13, tc: [597, 715], sc: [435, 741],
    lines: [
      { name: 'In\u2212person', color: '#F8766D', data: zip(p11Dates, p11InPerson) },
      { name: 'Remote', color: '#7CAE00', data: zip(p11Dates, p11Remote) },
      { name: 'Hybrid', color: '#00BFC4', data: zip(p11Dates, p11Hybrid) },
      { name: 'Unknown', color: '#C77CFF', data: zip(p11Dates, p11Unknown) }
    ] },
  { title: '(12) NPIs', sub: 'County\u2212level policies', yName: 'portion of counties', xName: 'date',
    box: [838.3, 749.1, 258, 150.4], xr: ['2020-03-20', '2020-12-12'], yr: [-0.044, 0.928], xT: quarterTicks, xM: quarterMinor,
    yT: p12YTicks, yM: p12YMinor, dec: 2, yGap: 20, xGap: 13, tc: [996, 715], sc: [838, 741],
    lines: [
      { name: 'mask\u2212mandate', color: '#F8766D', data: zip(p12Dates, p12Mask) },
      { name: 'stay\u2212at\u2212home', color: '#00BA38', data: zip(p12Dates, p12Stay) },
      { name: 'ban\u2212gathering', color: '#619CFF', data: zip(p12Dates, p12Ban) }
    ] }
];

const option = {
  animation: false,
  backgroundColor: '#ffffff',
  grid: [], xAxis: [], yAxis: [], series: [],
  legend: [],
  graphic: { elements: [] }
};

const gridLine = { color: '#c6c6c6', width: 0.7, type: [2, 2] };

panels.forEach((p, i) => {
  // keep every panel exactly where it is, even when labels run past the page edge
  option.grid.push({ left: p.box[0], top: p.box[1], width: p.box[2], height: p.box[3],
    containLabel: false, outerBoundsMode: 'none' });
  // dates are plotted as millisecond timestamps on a numeric axis
  option.xAxis.push({
    type: 'value', gridIndex: i, min: t(p.xr[0]), max: t(p.xr[1]),
    name: p.xName, nameLocation: 'middle', nameGap: p.xGap,
    nameTextStyle: { fontSize: 8.5, color: '#000', fontFamily: SANS },
    axisLine: { show: false }, axisTick: { show: false }, splitLine: { show: false },
    axisLabel: { customValues: p.xT.map(t), formatter: v => monthAbbr[new Date(v).getMonth()],
      fontSize: 6.5, color: '#4d4d4d', fontFamily: SANS, margin: 5 }
  });
  option.yAxis.push({
    type: 'value', gridIndex: i, min: p.yr[0], max: p.yr[1],
    name: p.yName, nameLocation: 'middle', nameGap: p.yGap,
    nameTextStyle: { fontSize: 8.5, color: '#000', fontFamily: SANS },
    axisLine: { show: false }, axisTick: { show: false }, splitLine: { show: false },
    axisLabel: { customValues: p.yT, formatter: fmt(p.dec), fontSize: 6.5, color: '#4d4d4d', fontFamily: SANS, margin: 3 }
  });
  // panel grid lines (major + minor), drawn through the axes' scales
  option.series.push({
    type: 'line', xAxisIndex: i, yAxisIndex: i, data: [], silent: true, z: 1,
    markLine: {
      silent: true, symbol: ['none', 'none'], label: { show: false }, z: 1,
      lineStyle: gridLine, emphasis: { disabled: true },
      data: p.xT.concat(p.xM).map(s => ({ xAxis: t(s) }))
        .concat(p.yT.concat(p.yM).map(v => ({ yAxis: v })))
    }
  });
  p.lines.forEach(l => {
    option.series.push({
      type: 'line', name: l.name, xAxisIndex: i, yAxisIndex: i, data: l.data,
      color: l.color, showSymbol: false, symbol: 'none', z: 3,
      lineStyle: { width: 1.9, color: l.color },
      emphasis: { disabled: true },
      endLabel: p.endLab ? { show: true, formatter: l.name, color: l.color, fontSize: 9, fontFamily: SANS, distance: 2 } : { show: false }
    });
  });
  option.graphic.elements.push({
    type: 'text', x: p.tc[0], y: p.tc[1], silent: true,
    style: { text: p.title, fontSize: 30, fontFamily: SERIF, fill: '#000', align: 'center', verticalAlign: 'middle' }
  });
  option.graphic.elements.push({
    type: 'text', x: p.sc[0], y: p.sc[1], silent: true,
    style: { text: p.sub, fontSize: 10.2, fontFamily: SANS, fill: '#000', align: 'left', verticalAlign: 'middle' }
  });
});

// legends for panels 11 and 12
const legendBase = {
  orient: 'vertical', padding: 0, icon: 'rect', itemWidth: 10, itemHeight: 2.2, itemGap: 4,
  selectedMode: false, textStyle: { fontSize: 7.4, lineHeight: 8.6, color: '#1a1a1a', fontFamily: SANS }
};
option.legend.push(Object.assign({}, legendBase, { left: 730, top: 808, data: ['In\u2212person', 'Remote', 'Hybrid', 'Unknown'] }));
option.legend.push(Object.assign({}, legendBase, { left: 1112, top: 813.7, data: ['mask\u2212mandate', 'stay\u2212at\u2212home', 'ban\u2212gathering'] }));
option.graphic.elements.push({
  type: 'text', x: 728, y: 797, silent: true,
  style: { text: 'plan', fontSize: 8.5, fontStyle: 'italic', fontFamily: SANS, fill: '#000', align: 'left', verticalAlign: 'middle' }
});
option.graphic.elements.push({
  type: 'text', x: 1110, y: 804, silent: true,
  style: { text: 'policy', fontSize: 8.5, fontStyle: 'italic', fontFamily: SANS, fill: '#000', align: 'left', verticalAlign: 'middle' }
});

const chart = echarts.init(document.getElementById('main'), null, { renderer: 'canvas' });
chart.setOption(option);
window.addEventListener('resize', () => { chart.resize(); });
</script>
</body>
</html>
